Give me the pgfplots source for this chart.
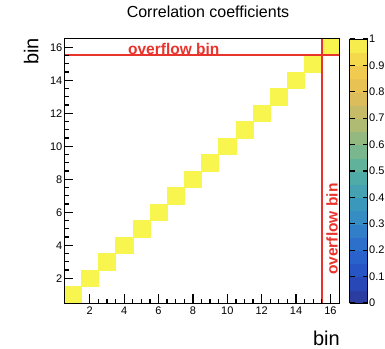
\documentclass[border=0pt]{standalone}
\usepackage{fontspec}
\setmainfont{Liberation Sans}
\usepackage{pgfplots}
\pgfplotsset{compat=1.18}

\definecolor{ovred}{RGB}{232,52,44}

% bird-like palette, 11 stops at 0, 0.1, ..., 1
\pgfplotsset{
  colormap={bird}{
    rgb255=(45,55,150) rgb255=(38,78,195) rgb255=(42,105,205) rgb255=(52,135,200)
    rgb255=(62,158,185) rgb255=(85,176,162) rgb255=(135,185,135) rgb255=(188,186,108)
    rgb255=(230,190,86) rgb255=(244,207,76) rgb255=(248,246,78)
  }
}

% diagonal cells of the correlation matrix: four corners per bin, value in c
\pgfplotstableread{
x y c
0.5 0.5 1
1.5 0.5 1
1.5 1.5 1
0.5 1.5 1
1.5 1.5 1
2.5 1.5 1
2.5 2.5 1
1.5 2.5 1
2.5 2.5 1
3.5 2.5 1
3.5 3.5 1
2.5 3.5 1
3.5 3.5 1
4.5 3.5 1
4.5 4.5 1
3.5 4.5 1
4.5 4.5 1
5.5 4.5 1
5.5 5.5 1
4.5 5.5 1
5.5 5.5 1
6.5 5.5 1
6.5 6.5 1
5.5 6.5 1
6.5 6.5 1
7.5 6.5 1
7.5 7.5 1
6.5 7.5 1
7.5 7.5 1
8.5 7.5 1
8.5 8.5 1
7.5 8.5 1
8.5 8.5 1
9.5 8.5 1
9.5 9.5 1
8.5 9.5 1
9.5 9.5 1
10.5 9.5 1
10.5 10.5 1
9.5 10.5 1
10.5 10.5 1
11.5 10.5 1
11.5 11.5 1
10.5 11.5 1
11.5 11.5 1
12.5 11.5 1
12.5 12.5 1
11.5 12.5 1
12.5 12.5 1
13.5 12.5 1
13.5 13.5 1
12.5 13.5 1
13.5 13.5 1
14.5 13.5 1
14.5 14.5 1
13.5 14.5 1
14.5 14.5 1
15.5 14.5 1
15.5 15.5 1
14.5 15.5 1
15.5 15.5 1
16.5 15.5 1
16.5 16.5 1
15.5 16.5 1
}\diagcells

\begin{document}
\begin{tikzpicture}
\useasboundingbox (0,0) rectangle (385pt,348pt);
\begin{axis}[
  at={(64pt,45pt)}, anchor=south west,
  scale only axis, width=275pt, height=264pt,
  xmin=0.5, xmax=16.5, ymin=0.5, ymax=16.5,
  xtick={2,4,...,16}, ytick={2,4,...,16},
  minor tick num=3,
  tick align=inside, tick pos=left,
  major tick length=9pt, minor tick length=4.5pt,
  every tick/.style={black, line width=1.3pt},
  axis line style={line width=1pt},
  axis on top,
  ticklabel style={font=\fontsize{11}{13}\selectfont},
  /pgf/number format/assume math mode=true,
  yticklabel style={inner xsep=1.5pt},
  colormap name=bird,
  point meta min=0, point meta max=1,
  colorbar, colorbar sampled,
  colorbar style={
    samples=21,
    at={(parent axis.north east)}, anchor=north west, xshift=2pt,
    width=18pt,
    ytick={0,0.1,0.2,0.3,0.4,0.5,0.6,0.7,0.8,0.9,1},
    tick align=inside, major tick length=5pt,
    every tick/.style={black, line width=1.3pt},
    axis line style={line width=0.8pt},
    axis on top,
    yticklabel style={inner xsep=1.5pt, font=\fontsize{11}{13}\selectfont},
    /pgf/number format/assume math mode=true,
  },
]
\addplot[patch, patch type=rectangle, shader=flat, point meta=explicit]
  table[x=x, y=y, meta=c] {\diagcells};
% overflow bin markers
\addplot[ovred, line width=2pt] coordinates {(0.5,15.5) (16.5,15.5)};
\addplot[ovred, line width=2pt] coordinates {(15.5,0.5) (15.5,16.5)};
\node[anchor=base west, inner sep=0pt, text=ovred,
      font=\bfseries\fontsize{15.5}{18}\selectfont]
  at (axis cs:4.22,15.59) {overflow bin};
\node[rotate=90, anchor=base west, inner sep=0pt, text=ovred,
      font=\bfseries\fontsize{15.5}{18}\selectfont]
  at (axis cs:16.42,2.2) {overflow bin};
\end{axis}
\node[anchor=base, inner sep=0pt, font=\fontsize{16}{19}\selectfont]
  at (208pt,330.5pt) {Correlation coefficients};
\node[rotate=90, anchor=base east, inner sep=0pt, font=\fontsize{20}{24}\selectfont]
  at (38.3pt,310pt) {bin};
\node[anchor=base east, inner sep=0pt, font=\fontsize{20}{24}\selectfont]
  at (340pt,2.5pt) {bin};
\end{tikzpicture}
\end{document}
